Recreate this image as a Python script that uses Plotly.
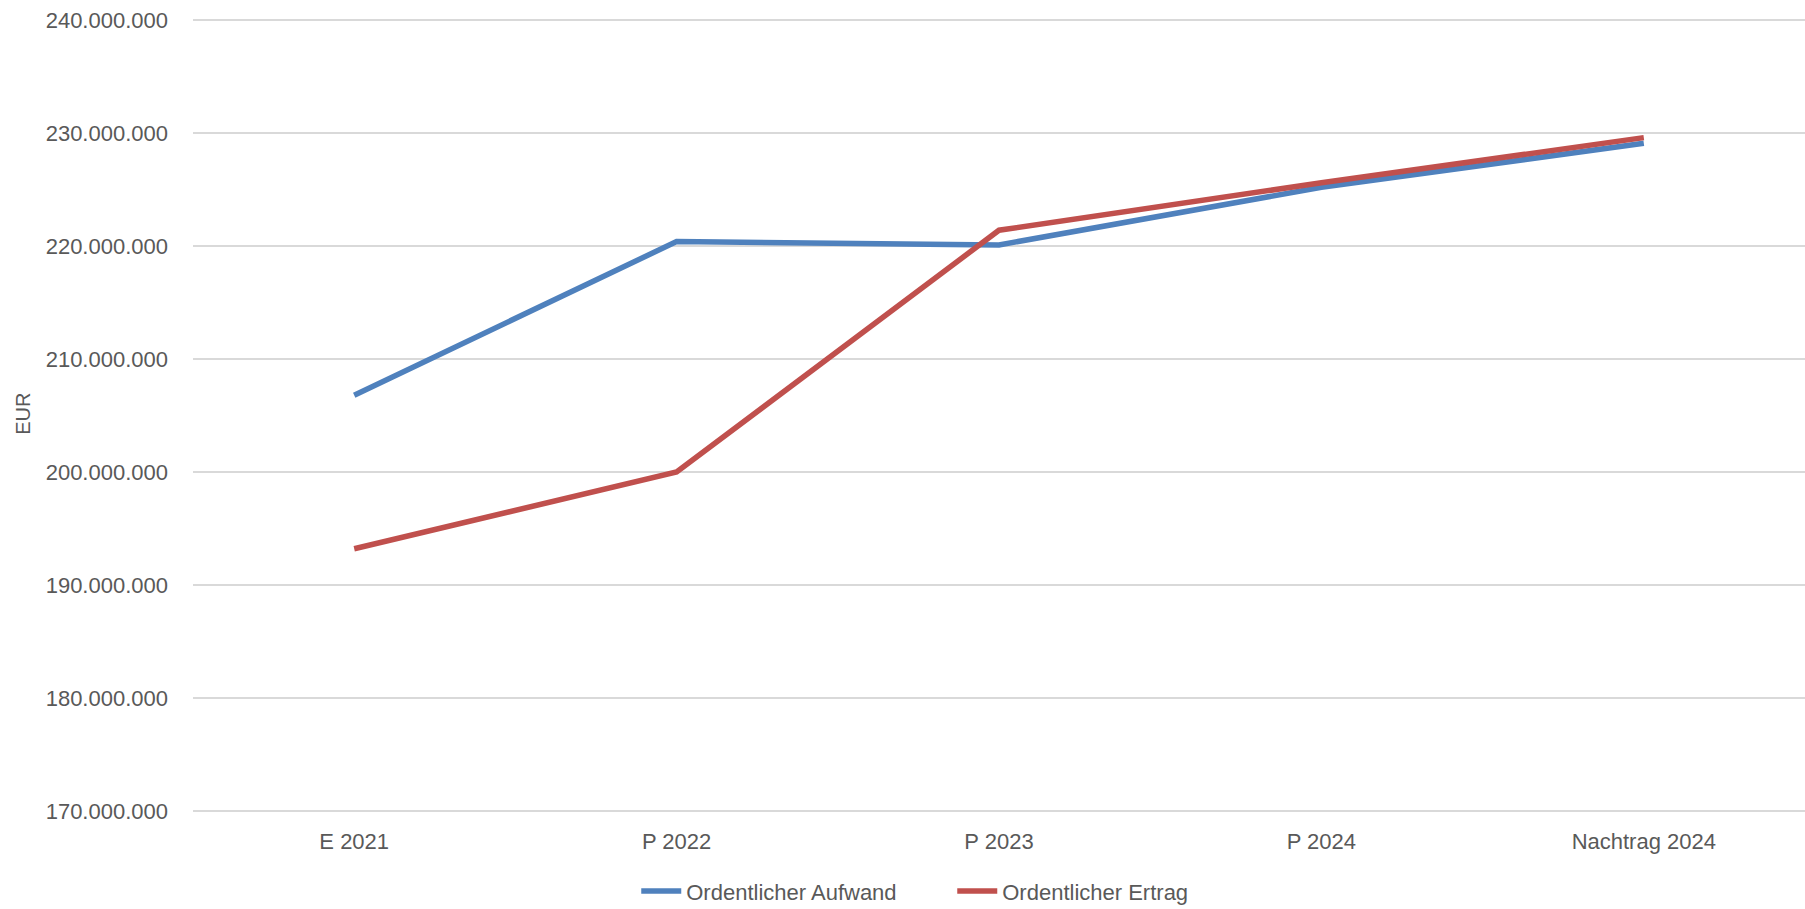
import plotly.graph_objects as go

categories = ["E 2021", "P 2022", "P 2023", "P 2024", "Nachtrag 2024"]
aufwand = [206800000, 220400000, 220100000, 225200000, 229100000]
ertrag = [193200000, 200000000, 221400000, 225600000, 229600000]
y_ticks = [170000000, 180000000, 190000000, 200000000, 210000000, 220000000, 230000000, 240000000]

FONT = "Liberation Sans, Arial, sans-serif"
TXT = "#595959"

fig = go.Figure()
fig.add_trace(go.Scatter(x=categories, y=aufwand, mode="lines", name="Ordentlicher Aufwand",
                         line=dict(color="#4F81BD", width=5.5)))
fig.add_trace(go.Scatter(x=categories, y=ertrag, mode="lines", name="Ordentlicher Ertrag",
                         line=dict(color="#C0504D", width=5.5)))

fig.update_layout(
    width=1805, height=909,
    margin=dict(l=193, r=0, t=19, b=97, autoexpand=False),
    paper_bgcolor="white", plot_bgcolor="white",
    separators=",.",
    font=dict(family=FONT, size=22, color=TXT),
    showlegend=True,
    legend=dict(orientation="h", x=0.471, xanchor="center", y=-0.10, yanchor="middle",
                font=dict(family=FONT, size=22, color=TXT), itemwidth=40,
                entrywidth=261, entrywidthmode="pixels",
                traceorder="normal"),
    xaxis=dict(type="category", range=[-0.5, 4.5], showgrid=False, showline=False,
               ticks="", ticklabelstandoff=14, automargin=False,
               tickfont=dict(family=FONT, size=22, color=TXT)),
    yaxis=dict(range=[169900000, 240100000], tickvals=y_ticks, tickformat=",d",
               showgrid=True, gridcolor="#D9D9D9", gridwidth=1.5, zeroline=False,
               showline=False, ticks="", ticklabelstandoff=24, automargin=False,
               tickfont=dict(family=FONT, size=22, color=TXT)),
    annotations=[dict(text="EUR", xref="paper", yref="paper", x=-0.1055, y=0.502,
                      xanchor="center", yanchor="middle",
                      textangle=-90, showarrow=False,
                      font=dict(family=FONT, size=20, color=TXT))],
)

fig.write_html("out.html", config={"displayModeBar": False})

with open("out.html", "r", encoding="utf-8") as f:
    html = f.read()
html = html.replace("<head>", "<head><style>html,body{margin:0;padding:0;overflow:hidden;}</style>", 1)
with open("out.html", "w", encoding="utf-8") as f:
    f.write(html)
